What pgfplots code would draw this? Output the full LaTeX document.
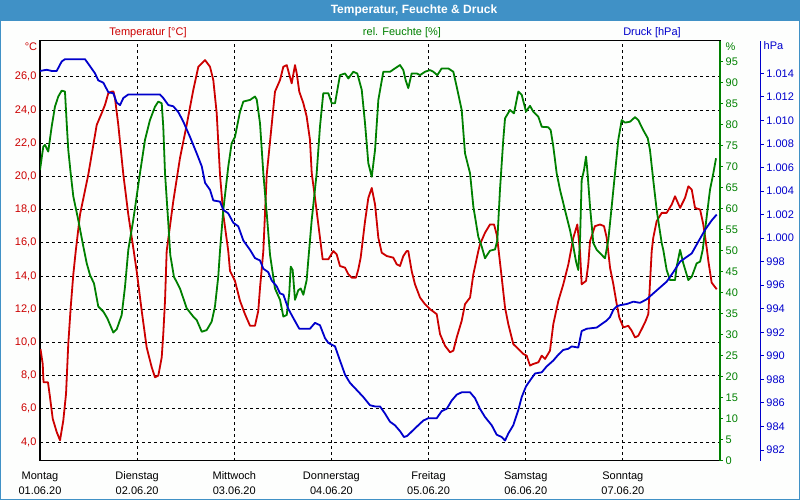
\documentclass[border=0pt]{standalone}
\usepackage{pgfplots}
\pgfplotsset{compat=1.18}
\usepackage{fontspec}
\setmainfont{Liberation Sans}

\definecolor{tred}{RGB}{204,0,0}
\definecolor{hgreen}{RGB}{0,128,0}
\definecolor{pblue}{RGB}{0,0,204}
\definecolor{barblue}{RGB}{64,145,198}
\definecolor{bg}{RGB}{253,254,253}

\pgfplotsset{
  wetter/.style={
    at={(40pt,39.3pt)}, anchor=south west,
    scale only axis, width=680pt, height=420pt,
    xmin=0, xmax=7,
    /pgf/number format/assume math mode=true,
    ticklabel style={font=\fontsize{11}{13}\selectfont},
    every axis plot/.append style={line width=1.8pt, line join=round},
  },
  rechts/.style={
    axis x line=none, axis y line*=right,
    tick align=outside, major tick length=3pt,
    yticklabel style={anchor=west, inner sep=0pt},
  },
}

\begin{document}
\begin{tikzpicture}[x=1pt, y=1pt]
\useasboundingbox (0,0) rectangle (800,500);
\fill[barblue] (0,0) rectangle (800,500);
\fill[bg] (1,1) rectangle (799,479.3);
\node[white, font=\fontsize{12}{14}\selectfont\bfseries] at (414,489.8) {Temperatur, Feuchte \& Druck};

\node[tred, font=\fontsize{11}{13}\selectfont] at (148,467.7) {Temperatur [°C]};
\node[hgreen, font=\fontsize{11}{13}\selectfont] at (402,467.7) {rel. Feuchte [\%]};
\node[pblue, font=\fontsize{11}{13}\selectfont] at (652,467.7) {Druck [hPa]};
\node[tred, font=\fontsize{11}{13}\selectfont] at (31,453.5) {°C};
\node[hgreen, font=\fontsize{11}{13}\selectfont] at (730.5,453.5) {\%};
\node[pblue, font=\fontsize{11}{13}\selectfont] at (773.5,454) {hPa};

% Temperatur
\begin{axis}[wetter,
    ymin=2.874, ymax=28.168,
    ytick={4,6,...,26},
    xtick={0,...,6},
    xticklabels={{Montag\\01.06.20},{Dienstag\\02.06.20},{Mittwoch\\03.06.20},
      {Donnerstag\\04.06.20},{Freitag\\05.06.20},{Samstag\\06.06.20},{Sonntag\\07.06.20}},
    xticklabel style={anchor=north, inner sep=0pt, yshift=-11pt, align=center,
      font=\fontsize{11}{15}\selectfont},
    yticklabel style={tred, anchor=east, inner sep=0pt, xshift=-3.4pt},
    yticklabel={\pgfmathprintnumber[fixed, fixed zerofill, precision=1, use comma]{\tick}},
    major tick length=0pt,
    axis line style={black, line width=1.2pt},
    grid=major,
    major grid style={black, line width=0.8pt, dash pattern=on 3pt off 3pt},
  ]
\addplot[tred] coordinates {
(0.005,9.6)(0.028,8.7)(0.036,7.6)(0.082,7.6)(0.103,6.7)(0.131,5.4)(0.172,4.6)(0.206,4.1)
(0.240,5.3)(0.268,6.9)(0.291,9.9)(0.316,12.1)(0.343,14.1)(0.368,15.5)(0.412,17.7)(0.497,20.1)
(0.584,23.1)(0.635,23.8)(0.669,24.3)(0.703,25.0)(0.738,25.1)(0.757,25.1)(0.772,24.7)(0.806,23.1)
(0.858,20.1)(0.909,17.7)(0.960,15.7)(0.995,14.3)(1.047,11.9)(1.098,9.7)(1.150,8.5)(1.184,7.9)
(1.218,8.0)(1.253,9.1)(1.269,10.5)(1.287,12.5)(1.304,15.5)(1.372,18.5)(1.441,21.1)(1.510,23.1)
(1.578,25.2)(1.630,26.6)(1.699,27.0)(1.750,26.6)(1.784,25.8)(1.819,23.8)(1.853,20.1)(1.887,17.7)
(1.938,15.5)(1.956,14.3)(2.007,13.7)(2.059,12.5)(2.110,11.7)(2.162,11.0)(2.213,11.0)(2.247,11.9)
(2.265,13.3)(2.299,15.5)(2.334,20.1)(2.368,22.1)(2.402,24.1)(2.419,25.1)(2.471,25.8)(2.505,26.6)
(2.540,26.7)(2.563,26.2)(2.591,25.6)(2.625,26.7)(2.643,26.2)(2.669,25.1)(2.711,24.4)(2.745,23.6)
(2.779,22.2)(2.797,20.2)(2.831,18.7)(2.865,17.1)(2.910,15.0)(2.968,15.0)(3.019,15.5)(3.054,15.3)
(3.088,14.6)(3.140,14.5)(3.174,14.1)(3.209,13.9)(3.253,13.9)(3.277,14.4)(3.301,15.1)(3.346,17.3)
(3.380,18.7)(3.415,19.3)(3.449,18.3)(3.483,16.3)(3.518,15.4)(3.569,15.2)(3.637,15.1)(3.672,14.7)
(3.706,14.6)(3.740,15.2)(3.775,15.5)(3.791,15.5)(3.826,14.3)(3.860,13.5)(3.912,12.7)(3.963,12.3)
(4.015,12.0)(4.084,11.7)(4.118,10.5)(4.169,9.8)(4.221,9.4)(4.255,9.5)(4.290,10.3)(4.341,11.3)
(4.375,12.3)(4.427,12.7)(4.461,14.1)(4.512,15.5)(4.529,15.9)(4.581,16.6)(4.632,17.1)(4.674,17.1)
(4.701,16.5)(4.718,15.7)(4.753,13.9)(4.787,12.1)(4.821,11.1)(4.872,9.9)(4.924,9.6)(4.975,9.3)
(5.010,9.2)(5.044,8.6)(5.078,8.7)(5.130,8.8)(5.165,9.2)(5.199,9.0)(5.250,9.5)(5.284,11.1)
(5.336,12.5)(5.387,13.5)(5.439,14.7)(5.490,16.3)(5.531,17.1)(5.559,15.5)(5.576,13.5)(5.621,13.7)
(5.644,14.7)(5.662,16.1)(5.713,17.0)(5.765,17.1)(5.806,17.0)(5.834,16.3)(5.868,14.5)(5.902,13.5)
(5.937,12.3)(5.963,11.5)(6.005,10.9)(6.056,11.0)(6.091,10.7)(6.125,10.3)(6.159,10.4)(6.194,10.8)
(6.228,11.2)(6.262,11.7)(6.297,15.5)(6.313,16.3)(6.348,17.3)(6.400,17.8)(6.451,17.8)(6.503,18.3)
(6.537,18.8)(6.589,18.1)(6.640,18.7)(6.674,19.4)(6.709,19.2)(6.743,18.1)(6.795,18.0)(6.828,17.1)
(6.863,15.7)(6.880,14.9)(6.914,13.6)(6.966,13.2)
};
\end{axis}

% rel. Feuchte
\begin{axis}[wetter, rechts,
    ymin=0, ymax=100, ytick={0,5,...,95},
    y axis line style={hgreen, line width=1.2pt},
    ytick style={hgreen, line width=0.8pt},
    yticklabel style={hgreen, xshift=2.5pt},
  ]
\addplot[hgreen] coordinates {
(0.000,69.2)(0.034,74.8)(0.051,75.2)(0.085,73.6)(0.120,79.5)(0.154,84.3)(0.188,86.7)(0.223,88.1)
(0.257,87.9)(0.275,80.3)(0.291,74.0)(0.316,68.4)(0.343,62.9)(0.394,57.3)(0.446,51.0)(0.481,47.0)
(0.515,44.2)(0.556,42.2)(0.600,36.7)(0.652,35.5)(0.693,33.9)(0.755,30.5)(0.790,31.3)(0.841,34.7)
(0.875,41.4)(0.909,50.2)(0.960,57.3)(1.029,68.4)(1.081,76.4)(1.132,81.1)(1.184,84.3)(1.218,85.5)
(1.253,85.1)(1.269,79.5)(1.287,68.4)(1.321,56.5)(1.341,49.0)(1.379,43.8)(1.441,41.0)(1.510,36.3)
(1.578,34.3)(1.613,33.5)(1.665,30.7)(1.716,31.1)(1.767,33.1)(1.801,36.7)(1.835,43.8)(1.853,50.0)
(1.887,59.7)(1.938,70.0)(1.973,75.6)(2.007,77.1)(2.059,83.1)(2.093,85.5)(2.162,85.9)(2.213,86.7)
(2.231,86.0)(2.265,80.3)(2.299,68.4)(2.334,58.9)(2.368,49.0)(2.419,41.0)(2.471,38.3)(2.505,34.3)
(2.540,34.7)(2.566,39.9)(2.581,46.2)(2.601,45.4)(2.625,38.3)(2.659,40.6)(2.684,41.0)(2.711,39.5)
(2.745,43.0)(2.762,47.8)(2.797,57.3)(2.848,68.4)(2.882,79.5)(2.916,87.5)(2.968,87.5)(3.003,85.1)
(3.037,85.1)(3.088,91.8)(3.140,92.2)(3.174,91.0)(3.225,92.6)(3.266,92.2)(3.312,88.3)(3.346,80.3)
(3.380,70.8)(3.415,67.6)(3.449,74.0)(3.483,85.9)(3.534,92.6)(3.603,92.6)(3.654,93.4)(3.706,94.2)
(3.740,93.0)(3.764,90.6)(3.791,88.7)(3.826,92.2)(3.878,92.2)(3.912,91.8)(3.963,92.6)(4.015,93.0)
(4.049,92.6)(4.090,91.8)(4.135,93.4)(4.203,93.4)(4.255,92.6)(4.290,89.0)(4.341,83.5)(4.375,73.2)
(4.427,68.4)(4.461,60.5)(4.512,53.3)(4.547,51.0)(4.581,48.2)(4.632,50.0)(4.684,50.3)(4.708,52.5)
(4.735,64.5)(4.769,76.4)(4.787,81.5)(4.838,83.5)(4.879,82.7)(4.924,87.9)(4.959,87.1)(5.003,83.1)
(5.044,84.5)(5.078,83.1)(5.130,81.9)(5.165,79.5)(5.232,79.4)(5.257,78.7)(5.284,74.8)(5.319,68.4)
(5.353,64.5)(5.404,59.7)(5.456,54.9)(5.490,51.0)(5.518,47.4)(5.541,45.4)(5.559,52.5)(5.576,66.8)
(5.600,69.2)(5.621,72.4)(5.634,69.2)(5.662,60.5)(5.696,51.8)(5.731,50.2)(5.782,49.0)(5.816,48.2)
(5.850,52.5)(5.885,60.5)(5.919,68.4)(5.953,76.4)(5.988,81.1)(6.022,80.5)(6.073,80.7)(6.125,81.8)
(6.159,81.1)(6.210,78.7)(6.256,76.8)(6.279,74.0)(6.313,66.8)(6.348,59.7)(6.400,51.8)(6.416,50.2)
(6.451,45.4)(6.485,43.0)(6.537,43.0)(6.554,46.2)(6.589,50.2)(6.622,47.0)(6.674,43.0)(6.709,43.8)
(6.760,47.0)(6.795,47.4)(6.822,50.2)(6.863,58.1)(6.897,64.5)(6.931,68.4)(6.959,72.0)
};
\end{axis}

% Druck
\begin{axis}[wetter, rechts,
    ymin=981.09, ymax=1016.77, ytick={982,984,...,1014},
    /pgf/number format/set thousands separator={.},
    y axis line style={pblue, line width=1pt, xshift=40.7pt},
    ytick style={pblue, line width=0.8pt, xshift=40.7pt},
    yticklabel style={pblue, xshift=43.2pt},
  ]
\addplot[pblue] coordinates {
(0.000,1014.2)(0.069,1014.3)(0.120,1014.2)(0.172,1014.2)(0.223,1015.0)(0.257,1015.2)(0.463,1015.2)
(0.515,1014.6)(0.566,1014.0)(0.600,1013.4)(0.652,1013.2)(0.703,1012.4)(0.755,1012.3)(0.790,1011.5)
(0.824,1011.3)(0.858,1011.9)(0.909,1012.2)(1.235,1012.2)(1.269,1011.9)(1.321,1011.3)(1.372,1011.2)
(1.424,1010.7)(1.475,1009.9)(1.544,1008.6)(1.613,1007.2)(1.665,1006.1)(1.699,1004.7)(1.750,1004.1)
(1.784,1003.2)(1.853,1003.1)(1.887,1002.4)(1.938,1002.1)(1.990,1001.3)(2.041,1001.0)(2.093,999.8)
(2.162,999.0)(2.213,998.3)(2.265,998.1)(2.299,997.4)(2.350,997.1)(2.385,996.4)(2.437,995.9)
(2.471,995.3)(2.505,995.2)(2.556,994.0)(2.608,993.2)(2.669,992.3)(2.779,992.3)(2.831,992.8)
(2.882,992.6)(2.934,991.5)(2.968,991.1)(3.037,990.8)(3.088,989.6)(3.140,988.4)(3.191,987.7)
(3.260,987.1)(3.328,986.5)(3.397,985.8)(3.449,985.7)(3.500,985.7)(3.551,985.1)(3.603,984.4)
(3.654,984.1)(3.706,983.6)(3.747,983.1)(3.781,983.2)(3.843,983.7)(3.894,984.1)(3.946,984.5)
(3.997,984.7)(4.084,984.7)(4.135,985.3)(4.187,985.5)(4.238,986.2)(4.290,986.7)(4.341,986.9)
(4.427,986.9)(4.478,986.4)(4.529,985.5)(4.581,984.8)(4.650,984.1)(4.701,983.3)(4.753,983.1)
(4.787,982.8)(4.821,983.4)(4.872,984.1)(4.924,985.4)(4.959,986.5)(5.003,987.4)(5.044,987.9)
(5.096,988.5)(5.165,988.6)(5.216,989.1)(5.284,989.6)(5.336,990.1)(5.387,990.5)(5.439,990.6)
(5.473,990.8)(5.541,990.7)(5.576,992.1)(5.628,992.3)(5.731,992.4)(5.782,992.7)(5.834,993.0)
(5.868,993.3)(5.902,993.9)(5.937,994.2)(5.971,994.3)(6.040,994.4)(6.108,994.6)(6.177,994.5)
(6.245,994.8)(6.313,995.3)(6.382,995.8)(6.451,996.3)(6.519,997.1)(6.589,998.0)(6.657,998.4)
(6.709,998.7)(6.777,999.7)(6.846,1000.7)(6.914,1001.5)(6.966,1002.0)
};
\end{axis}
\end{tikzpicture}
\end{document}
